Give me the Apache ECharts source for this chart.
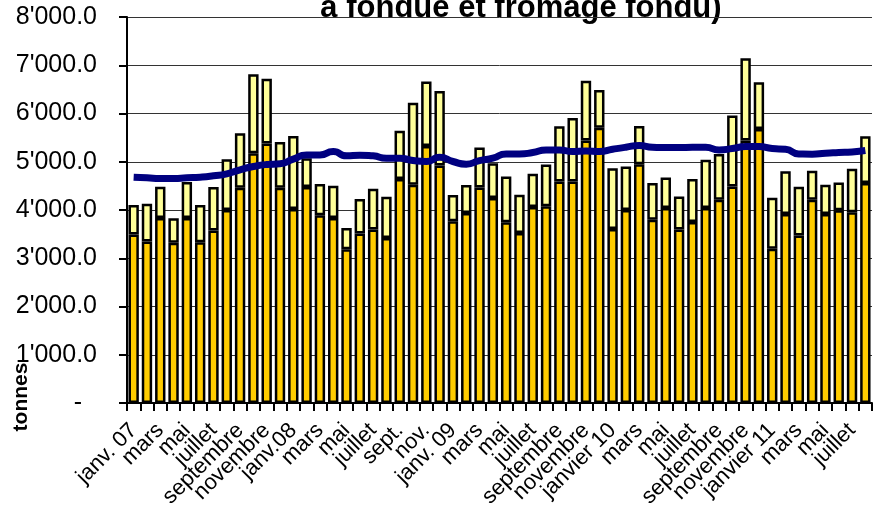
<!DOCTYPE html>
<html>
<head>
<meta charset="utf-8">
<script src="https://cdn.jsdelivr.net/npm/echarts@6/dist/echarts.min.js"></script>
<style>html,body{margin:0;padding:0;background:#fff;}#c{width:873px;height:505px;}</style>
</head>
<body>
<div id="c"></div>
<script>
const titleText = "à fondue et fromage fondu)";
const yAxisName = "tonnes";
const categories = [
  "janv. 07","févr.","mars","avril","mai","juin","juillet","août","septembre","octobre","novembre","décembre",
  "janv.08","févr.","mars","avril","mai","juin","juillet","août","sept.","oct.","nov.","déc.",
  "janv. 09","févr.","mars","avril","mai","juin","juillet","août","septembre","octobre","novembre","décembre",
  "janvier 10","février","mars","avril","mai","juin","juillet","août","septembre","octobre","novembre","décembre",
  "janvier 11","février","mars","avril","mai","juin","juillet","août"
];
const seriesLower = [
  3491,3346,3835,3319,3835,3332,3573,4000,4461,5177,5376,4461,
  4021,4475,3890,3835,3188,3511,3594,3422,4640,4523,5328,4922,
  3766,3938,4468,4248,3745,3525,4062,4076,4592,4592,5438,5707,
  3608,4000,4950,3800,4041,3594,3752,4041,4210,4489,5438,5679,
  3195,3917,3470,4213,3917,3993,3952,4557
];
const seriesUpper = [
  612,785,647,509,743,771,902,1053,1129,1638,1343,950,
  1514,599,647,667,440,716,846,853,1005,1700,1335,1542,
  544,578,826,722,950,792,688,867,1142,1314,1239,778,
  1259,902,791,757,633,688,888,998,950,1472,1707,971,
  1060,888,1012,599,606,578,901,971
];
const seriesTrend = [
  4681,4668,4654,4654,4668,4681,4709,4750,4833,4902,4943,4957,
  5053,5142,5142,5211,5122,5135,5122,5074,5074,5025,5005,5094,
  5005,4950,5025,5074,5163,5163,5191,5246,5246,5211,5225,5211,
  5259,5301,5335,5301,5294,5294,5301,5301,5246,5273,5314,5314,
  5273,5259,5163,5156,5177,5191,5204,5232
];
const yTicks = [0,1000,2000,3000,4000,5000,6000,7000,8000];

function fmt(v){
  if (v === 0) return '{z|-}';
  const s = v.toFixed(1);
  const parts = s.split('.');
  const ip = parts[0].replace(/\B(?=(\d{3})+(?!\d))/g, "'");
  return ip + '.' + parts[1];
}

const FF = 'Liberation Sans, Arial, sans-serif';
const chart = echarts.init(document.getElementById('c'), null, {renderer:'canvas'});
chart.setOption({
  animation:false,
  backgroundColor:'#ffffff',
  textStyle:{fontFamily:FF},
  grid:{left:127,right:1,top:17,bottom:102,containLabel:false,outerBoundsMode:'none'},
  graphic:[
    {type:'text', x:521, y:8, style:{text:titleText, fontSize:31, fontWeight:'bold', fontFamily:FF, fill:'#000', align:'center', verticalAlign:'middle'}},
    {type:'text', x:21, y:397, rotation:Math.PI/2, style:{text:yAxisName, fontSize:21, fontWeight:'bold', fontFamily:FF, fill:'#000', align:'center', verticalAlign:'middle'}}
  ],
  xAxis:{
    type:'category',
    data:categories,
    boundaryGap:true,
    axisLine:{show:true,lineStyle:{color:'#000',width:2}},
    axisTick:{show:true,interval:0,length:8,lineStyle:{color:'#000',width:2}},
    axisLabel:{interval:0,rotate:45,fontSize:22,color:'#000',margin:24,fontFamily:FF,
      formatter:function(v, i){ return (i % 2 === 0) ? v : ''; }},
    splitLine:{show:false}
  },
  yAxis:{
    type:'value',
    min:yTicks[0], max:yTicks[yTicks.length-1], interval:1000,
    axisLine:{show:true,lineStyle:{color:'#000',width:2}},
    axisTick:{show:true,length:8,lineStyle:{color:'#000',width:2}},
    axisLabel:{formatter:fmt,fontSize:25,color:'#000',margin:30,fontFamily:FF,
      rich:{z:{fontSize:25,color:'#000',padding:[0,15,0,0],fontFamily:FF}}},
    splitLine:{show:true,lineStyle:{color:'#333',width:1}}
  },
  series:[
    {type:'bar', stack:'a', data:seriesLower, barCategoryGap:'22%',
      itemStyle:{color:'#FFCC00',borderColor:'#000',borderWidth:2.5}},
    {type:'bar', stack:'a', data:seriesUpper, barCategoryGap:'22%',
      itemStyle:{color:'#FFFF99',borderColor:'#000',borderWidth:2.5}},
    {type:'line', data:seriesTrend, smooth:0.6, symbol:'none',
      lineStyle:{color:'#000080',width:7}, z:5}
  ]
});
</script>
</body>
</html>
